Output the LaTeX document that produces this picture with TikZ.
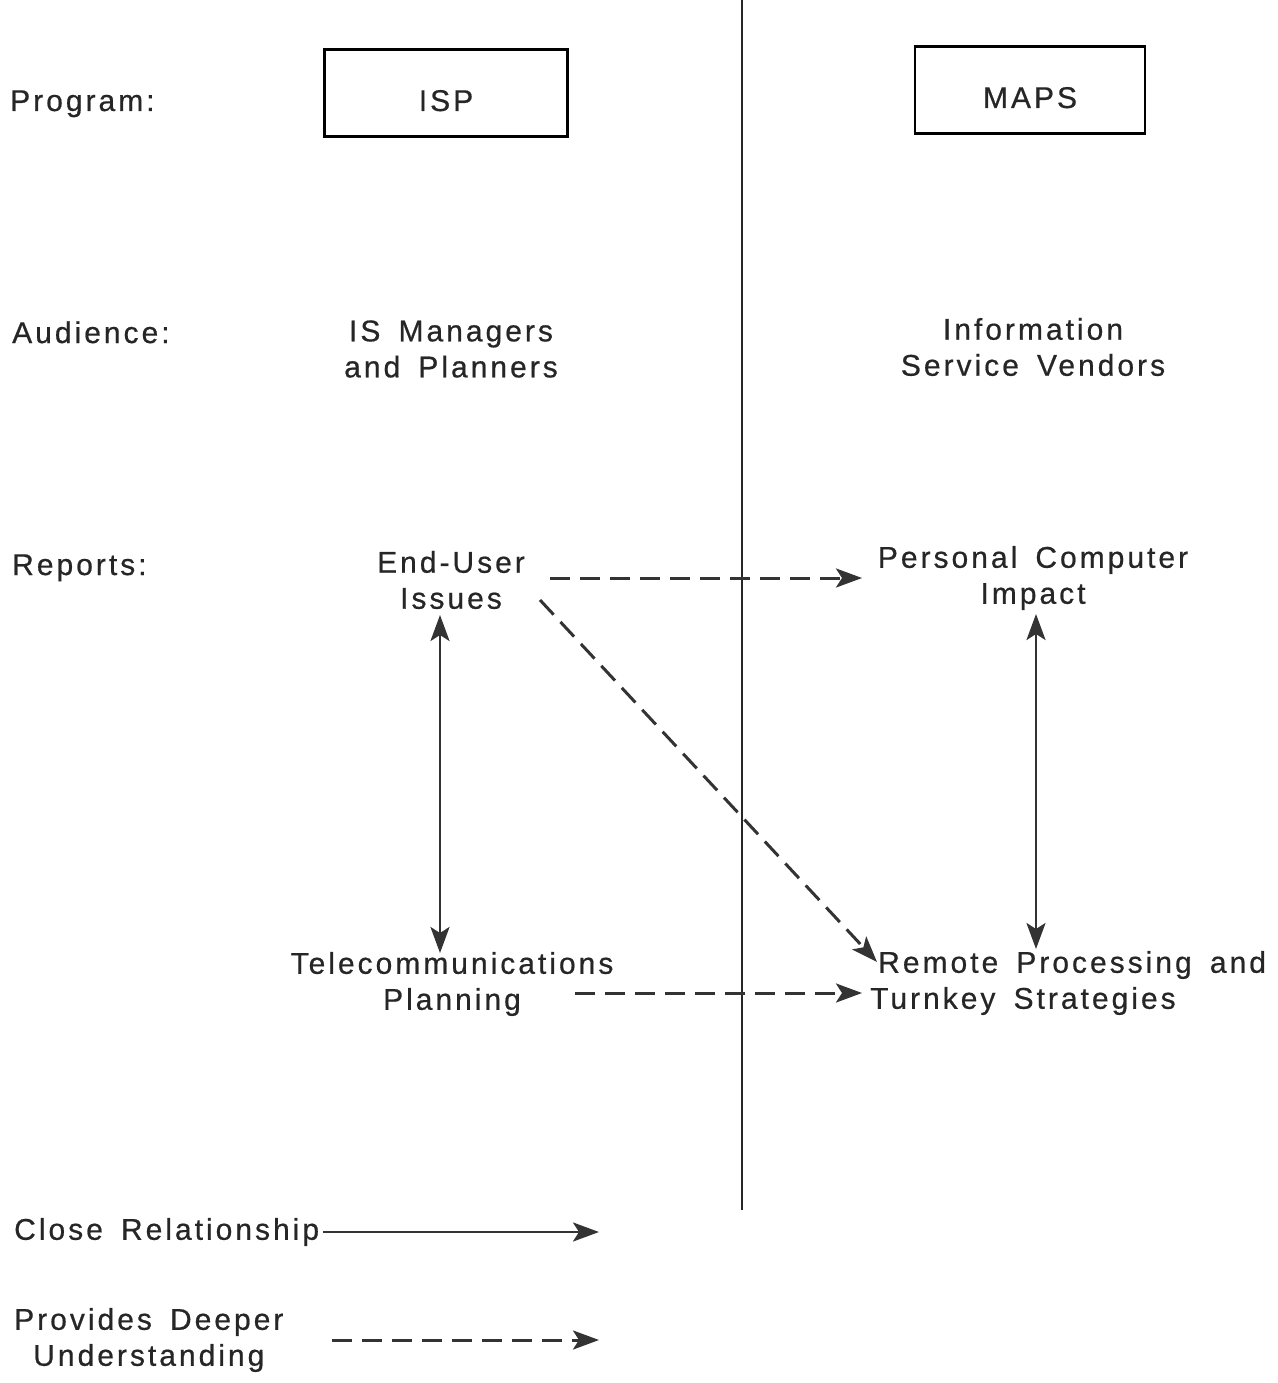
\documentclass[tikz,border=0pt]{standalone}
\usepackage{fontspec}
\setmainfont[LetterSpace=10, WordSpace=1.6, FakeBold=0.6]{Liberation Sans}
\usetikzlibrary{arrows.meta, positioning}

\begin{document}
\begin{tikzpicture}[
    x=1pt, y=-1pt,
    every node/.style={font=\fontsize{30}{36}\selectfont, inner sep=0pt, text=black!85},
    program/.style={rectangle, draw, line width=2.2pt, minimum width=243pt, minimum height=87pt, text height=36pt, text depth=0pt},
    report/.style={align=center},
    tip/.tip={Stealth[length=26pt, width=19pt, inset=6pt]},
    close/.style={tip-tip, line width=2.8pt, draw=black!80},
    deeper/.style={-tip, line width=3pt, draw=black!80, dash pattern=on 20pt off 10pt},
    divider/.style={line width=1.8pt, draw=black!85}
]
\useasboundingbox (0,0) rectangle (1277,1383);

% Row labels
\node[anchor=base west] (program) at (10,111) {Program:};
\node[anchor=base west] (audience) at (12,343) {Audience:};
\node[anchor=base west] (reports) at (12,575) {Reports:};

% Programs
\node[program] (isp) at (446,93) {ISP};
\node[program, minimum width=230pt] (maps) at (1030,90) {MAPS};

% Audiences
\node[report] (managers) at (451,349) {IS Managers\\and Planners};
\node[report] (vendors) at (1033,347) {Information\\Service Vendors};

% Reports
\node[report] (enduser) at (451,580) {End-User\\Issues};
\node[report] (pcimpact) at (1033,578) {Personal Computer\\Impact};
\node[report] (telecom) at (452,984) {Telecommunications\\Planning};
\node[align=left, anchor=west] (remote) at (870,983) {\hspace*{8pt}Remote Processing and\\Turnkey Strategies};

% Divider
\coordinate (top) at (742,0);
\coordinate (bottom) at (742,1210);
\draw[divider] (top) -- (bottom);

% Relationships
\coordinate (eu-out) at (550,578);
\coordinate (pc-in) at (862,578);
\coordinate (eu-diag) at (540,600);
\coordinate (rp-in) at (877,962);
\coordinate (tc-out) at (575,993);
\coordinate (rp-left) at (862,993);
\draw[deeper] (eu-out) -- (pc-in);
\draw[deeper] (eu-diag) -- (rp-in);
\draw[deeper] (tc-out) -- (rp-left);
\draw[close] (440,615) -- (440,953);
\draw[close] (1036,614) -- (1036,949);

% Legend
\node[anchor=west] (closelbl) at (14,1232) {Close Relationship};
\node[report, anchor=west] (deeperlbl) at (14,1340) {Provides Deeper\\Understanding};
\coordinate (close-end) at (599,1232);
\coordinate (deeper-start) at (332,1340);
\coordinate (deeper-end) at (599,1340);
\draw[-tip, line width=2.8pt, draw=black!80] (closelbl.east) ++(4,0) -- (close-end);
\draw[deeper] (deeper-start) -- (deeper-end);

\end{tikzpicture}
\end{document}
